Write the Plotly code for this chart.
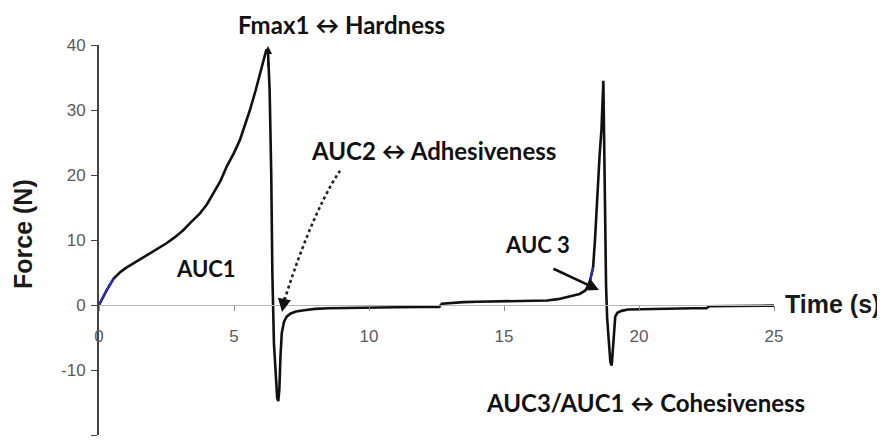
import plotly.graph_objects as go

# Texture-analyser force/time curve (two compression cycles)
time_s = [0, 0.15, 0.3, 0.55, 0.8, 1.0, 1.27, 1.5, 1.89, 2.2, 2.5, 2.8, 3.12, 3.4, 3.74,
          4.0, 4.23, 4.5, 4.73, 5.0, 5.22, 5.4, 5.59, 5.8, 5.96, 6.1, 6.2, 6.26, 6.32,
          6.38, 6.42, 6.48, 6.55, 6.6, 6.64, 6.68, 6.72, 6.77, 6.85, 6.95, 7.1, 7.3, 7.6,
          8.0, 8.5, 9.0, 10.0, 11.0, 12.0, 12.6, 12.7, 13.0, 13.5, 14.0, 15.0, 16.0, 16.6,
          17.0, 17.3, 17.6, 17.8, 18.0, 18.1, 18.18, 18.25, 18.3, 18.37, 18.46, 18.54,
          18.61, 18.68, 18.71, 18.74, 18.78, 18.82, 18.88, 18.94, 18.99, 19.03, 19.07,
          19.12, 19.2, 19.35, 19.6, 20.0, 20.5, 21.0, 22.0, 22.5, 22.6, 23.5, 25.0]
force_n = [0, 1.3, 2.4, 4.1, 5.1, 5.7, 6.4, 7.0, 8.0, 8.7, 9.5, 10.4, 11.5, 12.7, 14.1,
           15.5, 17.2, 19.1, 21.3, 23.4, 25.4, 27.6, 30.0, 33.0, 35.6, 37.6, 39.3, 39.0, 33.0,
           20.0, 5.0, -6.0, -12.0, -14.3, -14.8, -13.0, -8.0, -4.3, -2.6, -1.8, -1.3, -1.0, -0.8,
           -0.6, -0.5, -0.45, -0.4, -0.35, -0.3, -0.3, 0.2, 0.3, 0.45, 0.5, 0.55, 0.6, 0.7,
           0.9, 1.2, 1.5, 1.7, 2.2, 2.8, 3.6, 4.8, 5.8, 10.0, 18.2, 23.0,
           27.0, 34.5, 25.0, 13.0, 3.0, -2.0, -6.0, -8.8, -9.3, -7.0, -3.5,
           -1.8, -1.2, -0.9, -0.7, -0.65, -0.6, -0.55, -0.5, -0.5, -0.2, -0.15, -0.1]

# highlighted (blue) stretches of the curve, as index ranges into the series
blue_ranges = [(0, 4), (63, 66)]

x_ticks = [0, 5, 10, 15, 20, 25]
y_ticks = [40, 30, 20, 10, 0, -10, -20]
y_tick_text = ["40", "30", "20", "10", "0", "-10", "-20"]

fig = go.Figure()
fig.add_trace(go.Scatter(x=time_s, y=force_n, mode="lines",
                         line=dict(color="#111111", width=2.6), showlegend=False,
                         hoverinfo="x+y"))
for a, b in blue_ranges:
    fig.add_trace(go.Scatter(x=time_s[a:b], y=force_n[a:b], mode="lines",
                             line=dict(color="#2a2ad0", width=2), showlegend=False))

# page layout (the html body adds an 8px offset)
OFF = 8
PX0, PX1, PY0, PY1 = 99, 774, 45, 435       # plot area in page pixels
W, H = 885 - OFF, 443 - OFF
L, T = PX0 - OFF, PY0 - OFF
PW, PH = PX1 - PX0, PY1 - PY0
R, B = W - L - PW, H - T - PH

def px_to_data(px, py):
    return (px - PX0) / 27.0, (305 - py) / 6.5

def px_to_paper(px, py):
    return (px - PX0) / PW, (PY1 - py) / PH

tick_font = dict(family="Liberation Sans, Arial, sans-serif", size=17, color="#5a5a5a")
lab_font = dict(family="Lato, 'Open Sans', sans-serif", size=24, color="#111111")
axis_font = dict(family="Liberation Sans, Arial, sans-serif", size=25, color="#1a1a1a")

fig.update_layout(
    width=W, height=H,
    margin=dict(l=L, r=R, t=T, b=B, autoexpand=False),
    paper_bgcolor="white", plot_bgcolor="white",
    showlegend=False,
    xaxis=dict(range=[0, 25], anchor="free", position=1/3, automargin=False,
               tickvals=x_ticks, ticktext=[str(v) for v in x_ticks],
               showgrid=False, zeroline=False, showline=True,
               linecolor="#b5b5b5", linewidth=1.2,
               ticks="outside", ticklen=5, tickcolor="#888888",
               tickfont=tick_font, ticklabelstandoff=10),
    yaxis=dict(range=[-20, 40], tickvals=y_ticks, ticktext=y_tick_text, automargin=False,
               showgrid=False, zeroline=False, showline=True,
               linecolor="#444444", linewidth=2,
               ticks="outside", ticklen=6, tickcolor="#444444",
               tickfont=tick_font, ticklabelstandoff=2),
)

def text_ann(txt, x, y, font, xref="x", yref="y", angle=0):
    fig.add_annotation(text=txt, x=x, y=y, xref=xref, yref=yref, showarrow=False,
                       font=font, textangle=angle, xanchor="center", yanchor="middle")

bold24 = dict(lab_font)
bold22 = dict(lab_font, size=22)

x, y = px_to_paper(341, 25)
text_ann("<b>Fmax1 \u2194 Hardness</b>", x, y, bold24, "paper", "paper")
x, y = px_to_data(433.5, 150)
text_ann("<b>AUC2 \u2194 Adhesiveness</b>", x, y, bold24)
x, y = px_to_data(206, 268)
text_ann("<b>AUC1</b>", x, y, bold22)
x, y = px_to_data(537, 244)
text_ann("<b>AUC 3</b>", x, y, bold22)
x, y = px_to_data(645, 402)
text_ann("<b>AUC3/AUC1 \u2194 Cohesiveness</b>", x, y, bold24)
x, y = px_to_paper(832, 304)
text_ann("<b>Time (s)</b>", x, y, axis_font, "paper", "paper")
x, y = px_to_paper(23, 234)
text_ann("<b>Force (N)</b>", x, y, axis_font, "paper", "paper", angle=-90)

# Arrow to the first peak (Fmax1)
x, y = px_to_data(268, 46)
fig.add_annotation(x=x, y=y, xref="x", yref="y", text="", showarrow=True,
                   ax=0, ay=22, arrowhead=2, arrowsize=1, arrowwidth=1.6, arrowcolor="#111")

# Dotted curved arrow for AUC2
p = [px_to_data(*q) for q in [(340, 170.7), (318, 203), (296, 262), (283, 305)]]
path = "M {},{} C {},{} {},{} {},{}".format(p[0][0], p[0][1], p[1][0], p[1][1],
                                             p[2][0], p[2][1], p[3][0], p[3][1])
fig.add_shape(type="path", path=path, xref="x", yref="y",
              line=dict(color="#222", width=2.6, dash="dot"))
x, y = px_to_data(282, 312)
fig.add_annotation(x=x, y=y, xref="x", yref="y", text="", showarrow=True,
                   ax=3, ay=-16, arrowhead=2, arrowsize=1.1, arrowwidth=2.4, arrowcolor="#111")

# Solid arrow for AUC 3
x, y = px_to_data(599, 290)
fig.add_annotation(x=x, y=y, xref="x", yref="y", text="", showarrow=True,
                   ax=-47, ay=-22, arrowhead=2, arrowsize=1, arrowwidth=2.6, arrowcolor="#111")

fig.write_html("out.html")
